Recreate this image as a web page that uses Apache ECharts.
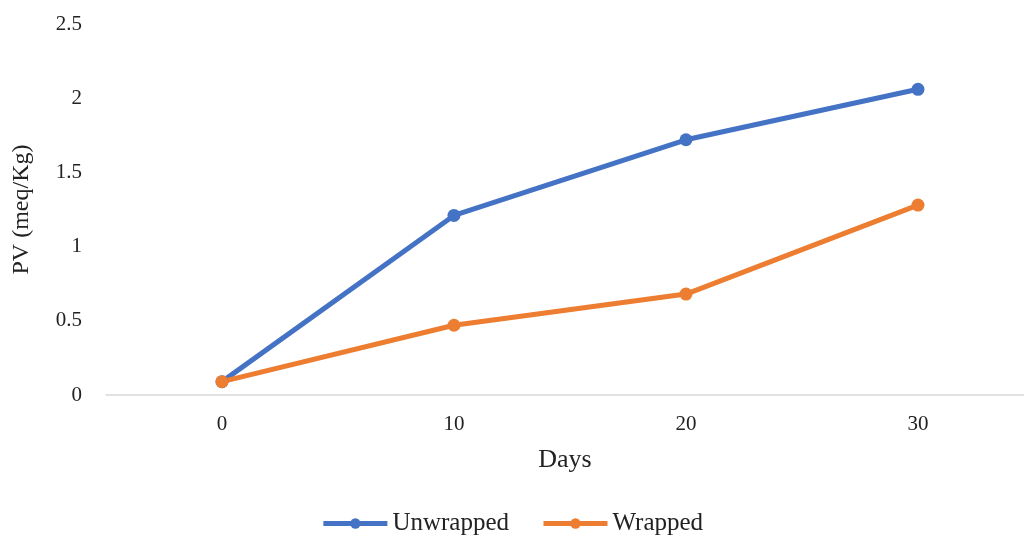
<!DOCTYPE html>
<html><head><meta charset="utf-8">
<script src="https://cdn.jsdelivr.net/npm/echarts@6/dist/echarts.min.js"></script>
<style>html,body{margin:0;padding:0;background:#fff}#c{width:1024px;height:538px}</style>
</head><body><div id="c"></div>
<script>
const days = [0, 10, 20, 30];
const unwrapped = [0.09, 1.21, 1.72, 2.06];
const wrapped = [0.09, 0.47, 0.68, 1.28];
const yTicks = [0, 0.5, 1, 1.5, 2, 2.5];
const xTicks = [0, 10, 20, 30];

const font = 'Liberation Serif';
const pairs = vals => days.map((d, i) => [d, vals[i]]);
const chart = echarts.init(document.getElementById('c'));
chart.setOption({
  animation: false,
  textStyle: {fontFamily: font},
  grid: {left: 106, right: 0, top: 24, height: 371, containLabel: false},
  legend: {
    bottom: -3, left: 'center', itemWidth: 64, itemHeight: 13, itemGap: 32,
    lineStyle: {width: 5},
    textStyle: {fontFamily: font, fontSize: 25, color: '#222'},
    data: ['Unwrapped', 'Wrapped']
  },
  xAxis: {
    type: 'value', min: -5, max: 34.57,
    name: 'Days', nameLocation: 'middle', nameGap: 52,
    nameTextStyle: {fontFamily: font, fontSize: 26, color: '#222'},
    axisLine: {onZero: false, lineStyle: {color: '#d9d9d9', width: 1.5}},
    axisTick: {show: false},
    splitLine: {show: false},
    axisLabel: {customValues: xTicks, fontFamily: font, fontSize: 21, color: '#222', margin: 19}
  },
  yAxis: {
    type: 'value', min: yTicks[0], max: yTicks[yTicks.length-1], interval: 0.5,
    name: 'PV (meq/Kg)', nameLocation: 'middle', nameGap: 72,
    nameTextStyle: {fontFamily: font, fontSize: 24, color: '#222'},
    axisLine: {show: false}, axisTick: {show: false},
    splitLine: {show: false},
    axisLabel: {fontFamily: font, fontSize: 21, color: '#222', margin: 24}
  },
  series: [
    {name: 'Unwrapped', type: 'line', data: pairs(unwrapped), symbol: 'circle', symbolSize: 13,
     lineStyle: {color: '#4472C4', width: 5}, itemStyle: {color: '#4472C4'}},
    {name: 'Wrapped', type: 'line', data: pairs(wrapped), symbol: 'circle', symbolSize: 13,
     lineStyle: {color: '#ED7D31', width: 5}, itemStyle: {color: '#ED7D31'}}
  ]
});
</script></body></html>
